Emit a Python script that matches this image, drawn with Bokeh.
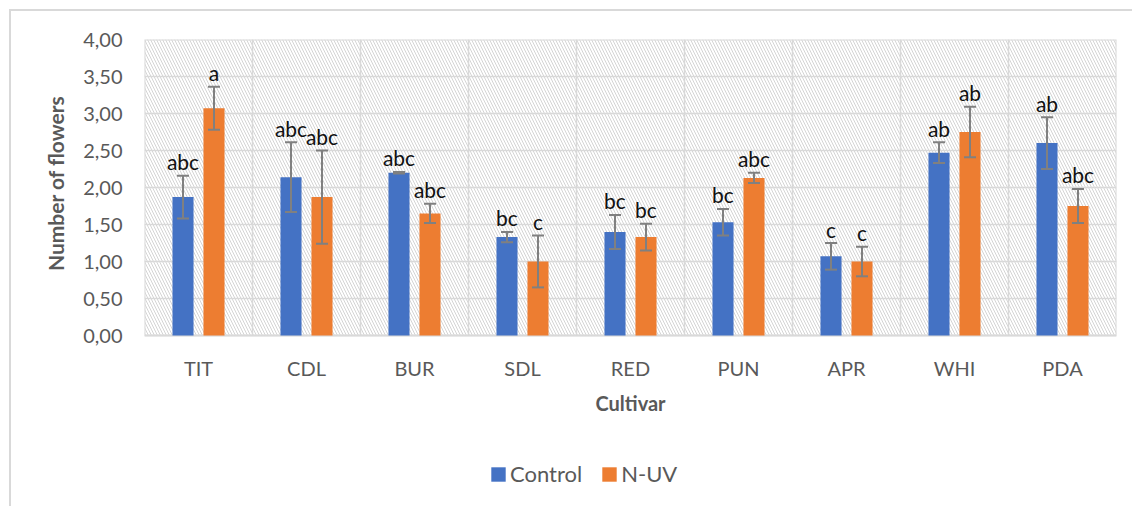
from bokeh.plotting import figure
from bokeh.models import (ColumnDataSource, Range1d, FixedTicker, CustomJSTickFormatter,
                          Legend, LegendItem, Title)
from bokeh.core.properties import value
from bokeh.embed import file_html
from bokeh.resources import INLINE

# ---- data ----
cultivars = ["TIT", "CDL", "BUR", "SDL", "RED", "PUN", "APR", "WHI", "PDA"]
control = [1.87, 2.14, 2.20, 1.33, 1.40, 1.53, 1.07, 2.47, 2.60]
control_err = [0.29, 0.47, 0.01, 0.07, 0.23, 0.18, 0.18, 0.14, 0.35]
nuv = [3.07, 1.87, 1.65, 1.00, 1.33, 2.13, 1.00, 2.75, 1.75]
nuv_err = [0.29, 0.63, 0.13, 0.35, 0.18, 0.07, 0.20, 0.34, 0.23]
control_letters = ["abc", "abc", "abc", "bc", "bc", "bc", "c", "ab", "ab"]
nuv_letters = ["a", "abc", "abc", "c", "bc", "abc", "c", "ab", "abc"]
y_ticks = [0, 0.5, 1.0, 1.5, 2.0, 2.5, 3.0, 3.5, 4.0]
x_title = "Cultivar"
y_title = "Number of flowers"
series_names = ["Control", "N-UV"]

FONT = "Lato"
GREY_TXT = "#595959"
GRID = "#d9d9d9"
BLUE = "#4472C4"
ORANGE = "#ED7D31"
ERR = "#808080"

bar_w = 0.195
off = 0.1435
n = len(cultivars)
y_max = 4.0
px_per_unit = 74.0
frame_h = 467
y_min = y_max - frame_h / px_per_unit   # extra room below the axis for labels/legend

def make_src(vals, errs, letters, shift):
    xs = [i + 0.5 + shift for i in range(n)]
    return ColumnDataSource(dict(
        x=xs, top=vals,
        upper=[v + e for v, e in zip(vals, errs)],
        lower=[v - e for v, e in zip(vals, errs)],
        lab=letters))

src_c = make_src(control, control_err, control_letters, -off)
src_n = make_src(nuv, nuv_err, nuv_letters, off)

p = figure(frame_width=972, frame_height=frame_h, output_backend="svg",
           toolbar_location=None,
           x_range=Range1d(0, n), y_range=Range1d(y_min, y_max),
           min_border_left=133, min_border_right=20,
           min_border_top=28, min_border_bottom=0)
p.styles = {"margin-left": "9px", "margin-top": "9px",
            "border": "2px solid #d9d9d9"}

p.outline_line_color = None
p.background_fill_color = "white"
p.border_fill_color = "white"

# hatched plot area with light border
p.quad(left=[0], right=[n], bottom=[0], top=[y_max], fill_color="white",
       line_color=GRID, line_width=2, hatch_pattern="\\", hatch_color="#d4d4d4",
       hatch_weight=1, hatch_scale=6, level="image")

# grids
p.xgrid.visible = False
p.ygrid.ticker = FixedTicker(ticks=y_ticks)
p.ygrid.grid_line_color = GRID
p.ygrid.grid_line_width = 1.5
sep = list(range(1, n))
p.segment(x0=sep, x1=sep, y0=[0] * len(sep), y1=[y_max] * len(sep),
          line_color=GRID, line_width=1.5, level="underlay")

# bars
r1 = p.vbar(x="x", top="top", width=bar_w, bottom=0, source=src_c,
            fill_color=BLUE, line_color=None)
r2 = p.vbar(x="x", top="top", width=bar_w, bottom=0, source=src_n,
            fill_color=ORANGE, line_color=None)

# error bars and letters
for s in (src_c, src_n):
    p.segment(x0="x", x1="x", y0="lower", y1="upper", source=s,
              line_color=ERR, line_width=2)
    p.scatter(x="x", y="upper", source=s, marker="dash", size=12,
              line_color=ERR, line_width=2)
    p.scatter(x="x", y="lower", source=s, marker="dash", size=12,
              line_color=ERR, line_width=2)
    p.text(x="x", y="upper", text="lab", source=s, text_align="center",
           text_baseline="alphabetic", y_offset=-14,
           text_font=value(FONT), text_font_size="21px", text_color="#111111")

# axes
p.xaxis.fixed_location = 0
p.xaxis.ticker = FixedTicker(ticks=[i + 0.5 for i in range(n)])
p.xaxis.formatter = CustomJSTickFormatter(args=dict(names=cultivars),
                                          code="return names[Math.floor(tick)];")
p.yaxis.ticker = FixedTicker(ticks=y_ticks)
p.yaxis.formatter = CustomJSTickFormatter(code="return tick.toFixed(2).replace('.', ',');")
for ax in (p.xaxis, p.yaxis):
    ax.axis_line_color = None
    ax.major_tick_line_color = None
    ax.minor_tick_line_color = None
    ax.major_tick_out = 0
    ax.major_tick_in = 0
    ax.major_label_text_font = FONT
    ax.major_label_text_font_size = "20px"
    ax.major_label_text_color = GREY_TXT
    ax.axis_label_text_font = FONT
    ax.axis_label_text_font_size = "20px"
    ax.axis_label_text_font_style = "bold"
    ax.axis_label_text_color = GREY_TXT
p.xaxis.axis_label = x_title
p.xaxis.major_label_standoff = 20
p.yaxis.major_label_standoff = 22
p.xaxis.axis_label_standoff = 8

# y-axis title placed along the value axis (0..4) rather than the whole frame
ytitle = Title(text=y_title, align="right", offset=56,
               text_font=FONT, text_font_size="21px", text_font_style="bold",
               text_color=GREY_TXT, standoff=26)
p.add_layout(ytitle, "left")

legend = Legend(items=[LegendItem(label=series_names[0], renderers=[r1]),
                       LegendItem(label=series_names[1], renderers=[r2])],
                orientation="horizontal", location=(345, 19),
                border_line_color=None, background_fill_alpha=0,
                padding=0, margin=0, spacing=18, label_standoff=3,
                glyph_width=18, glyph_height=18, label_height=18,
                label_text_font=FONT, label_text_font_size="22px",
                label_text_color=GREY_TXT, label_text_baseline="middle")
p.add_layout(legend, "center")

open("out.html", "w").write(file_html(p, INLINE))
